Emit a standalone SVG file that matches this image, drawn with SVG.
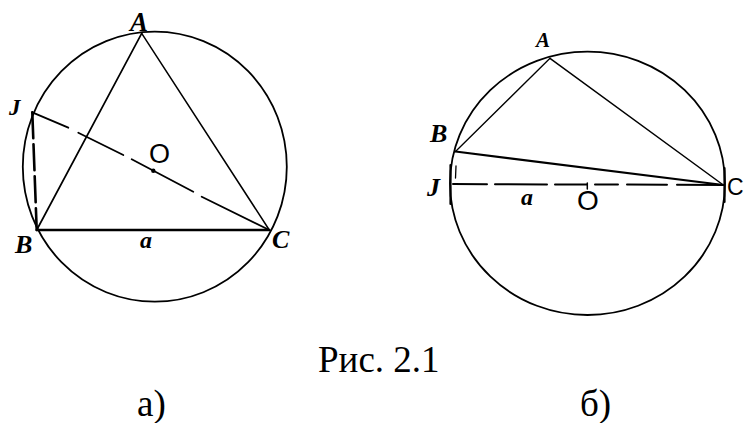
<svg xmlns="http://www.w3.org/2000/svg" width="745" height="423" viewBox="0 0 745 423">
<style>
.ln{stroke:#000;fill:none;stroke-linecap:round}
.lbl{font-family:"Liberation Serif",serif;font-style:italic;font-weight:bold;fill:#000}
.o{font-family:"Liberation Sans",sans-serif;fill:#000}
.cap{font-family:"Liberation Serif",serif;fill:#000;font-size:37px}
</style>
<rect width="745" height="423" fill="#fff"/>
<g id="fig-a">
  <g id="circle-a"><ellipse class="ln" cx="154.8" cy="166.7" rx="132" ry="135" stroke-width="1.8"/></g>
  <g id="connectors-a">
    <line class="ln" x1="141.7" y1="33.3" x2="36.7" y2="230" stroke-width="1.7"/>
    <line class="ln" x1="141.7" y1="33.3" x2="269.3" y2="230" stroke-width="1.5"/>
    <line class="ln" x1="36.7" y1="230" x2="269.3" y2="230" stroke-width="2.4"/>
    <line class="ln" x1="32.3" y1="112.3" x2="36.7" y2="230" stroke-width="2.6" stroke-dasharray="26 6"/>
    <line class="ln" x1="32.3" y1="112.3" x2="68.3" y2="127.7" stroke-width="1.8"/>
    <line class="ln" x1="78.3" y1="132.7" x2="123.3" y2="155" stroke-width="1.8"/>
    <line class="ln" x1="131.7" y1="159.3" x2="193.3" y2="191.7" stroke-width="1.8"/>
    <line class="ln" x1="201.7" y1="196.7" x2="269.3" y2="230" stroke-width="1.8"/>
    <circle cx="153.3" cy="170.7" r="2.2" fill="#000"/>
  </g>
  <g id="labels-a">
    <text class="lbl" x="130" y="31" font-size="27">A</text>
    <text class="lbl" x="9" y="115" font-size="23">J</text>
    <text class="lbl" x="15" y="253" font-size="26">B</text>
    <text class="lbl" x="272" y="248" font-size="26">C</text>
    <text class="lbl" x="140" y="248" font-size="24">a</text>
    <text class="o" x="149" y="163" font-size="27">O</text>
  </g>
</g>
<g id="fig-b">
  <g id="circle-b"><ellipse class="ln" cx="587.5" cy="183.3" rx="137.5" ry="131.7" stroke-width="1.8"/></g>
  <g id="connectors-b">
    <line class="ln" x1="550" y1="58.3" x2="455.5" y2="151.5" stroke-width="1.3"/>
    <line class="ln" x1="550" y1="58.3" x2="723.3" y2="185" stroke-width="1.5"/>
    <line class="ln" x1="455.5" y1="151.5" x2="723.3" y2="185" stroke-width="2.2"/>
    <line class="ln" x1="453" y1="184" x2="487" y2="184.2" stroke-width="2"/>
    <line class="ln" x1="495" y1="184.2" x2="547" y2="184.4" stroke-width="2"/>
    <line class="ln" x1="555" y1="184.4" x2="587" y2="184.5" stroke-width="2"/>
    <line class="ln" x1="595" y1="184.5" x2="618" y2="184.6" stroke-width="2"/>
    <line class="ln" x1="627" y1="184.6" x2="667" y2="184.8" stroke-width="2"/>
    <line class="ln" x1="677" y1="184.8" x2="723" y2="185" stroke-width="2"/>
    <line class="ln" x1="450.5" y1="165" x2="450.5" y2="204" stroke-width="2.2"/>
    <line class="ln" x1="724.5" y1="168" x2="724.5" y2="202" stroke-width="2.2"/>
    <line class="ln" x1="456" y1="166" x2="455.5" y2="178" stroke-width="1.3"/>
    <line class="ln" x1="587.3" y1="183" x2="587.3" y2="189" stroke-width="1.5"/>
  </g>
  <g id="labels-b">
    <text class="lbl" x="536" y="47" font-size="21">A</text>
    <text class="lbl" x="430" y="142" font-size="26">B</text>
    <text class="lbl" x="427" y="196" font-size="26">J</text>
    <text class="o" x="727" y="195" font-size="23">C</text>
    <text class="lbl" x="521" y="205" font-size="24">a</text>
    <text class="o" x="577" y="210" font-size="28">O</text>
  </g>
</g>
<g id="captions">
  <text class="cap" x="318" y="372">Рис. 2.1</text>
  <text class="cap" x="137" y="416">а)</text>
  <text class="cap" x="580" y="416">б)</text>
</g>
</svg>
